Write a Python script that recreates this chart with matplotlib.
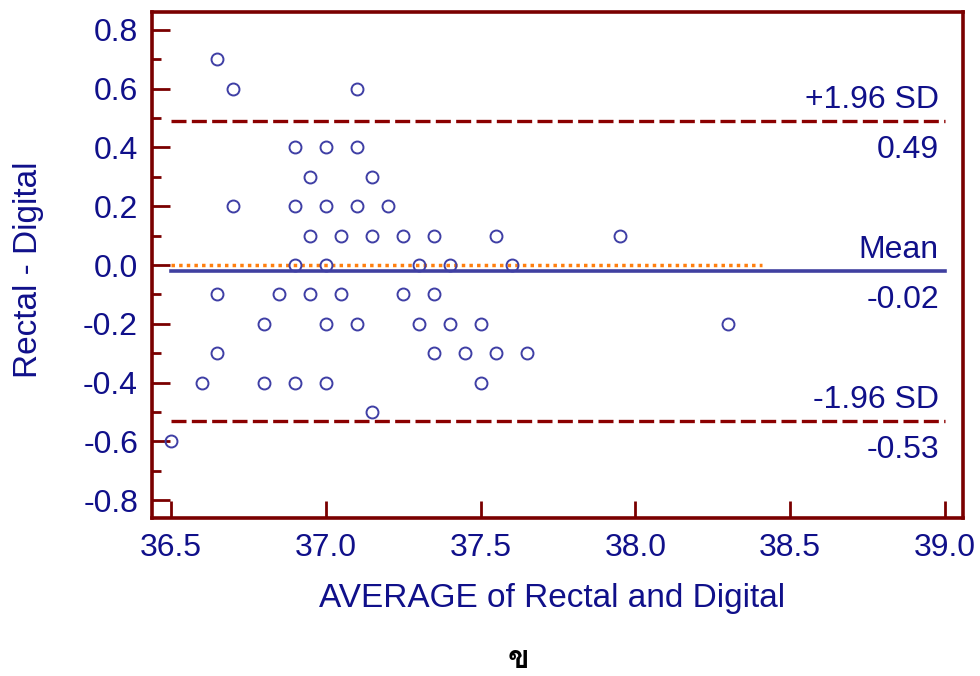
import numpy as np
import matplotlib
matplotlib.use("Agg")
import matplotlib.pyplot as plt
from matplotlib import font_manager, ft2font
from matplotlib.ticker import MultipleLocator

# Bland-Altman data: average of the two methods vs. difference
avg = [36.65, 36.70, 37.10,
       36.90, 37.00, 37.10,
       36.95, 37.15,
       36.70, 36.90, 37.00, 37.10, 37.20,
       36.95, 37.05, 37.15, 37.25, 37.35, 37.55, 37.95,
       36.90, 37.00, 37.30, 37.40, 37.60,
       36.65, 36.85, 36.95, 37.05, 37.25, 37.35,
       36.80, 37.00, 37.10, 37.30, 37.40, 37.50, 38.30,
       36.65, 37.35, 37.45, 37.55, 37.65,
       36.60, 36.80, 36.90, 37.00, 37.50,
       37.15,
       36.50]
diff = [0.7, 0.6, 0.6,
        0.4, 0.4, 0.4,
        0.3, 0.3,
        0.2, 0.2, 0.2, 0.2, 0.2,
        0.1, 0.1, 0.1, 0.1, 0.1, 0.1, 0.1,
        0.0, 0.0, 0.0, 0.0, 0.0,
        -0.1, -0.1, -0.1, -0.1, -0.1, -0.1,
        -0.2, -0.2, -0.2, -0.2, -0.2, -0.2, -0.2,
        -0.3, -0.3, -0.3, -0.3, -0.3,
        -0.4, -0.4, -0.4, -0.4, -0.4,
        -0.5,
        -0.6]

mean_diff = -0.02
upper_loa = 0.49
lower_loa = -0.53
line_x = [36.5, 39.0]
zero_x = [36.5, 38.41]

navy = "#10108a"
maroon = "#7a0000"


# find something that can draw the Thai letter
def thai_font():
    for f in font_manager.fontManager.ttflist:
        try:
            if 0x0E02 in ft2font.FT2Font(f.fname).get_charmap():
                return f.name
        except Exception:
            pass
    return "DejaVu Sans"


plt.rcParams['font.family'] = ['Liberation Sans', 'DejaVu Sans']

fig = plt.figure(figsize=(9.8, 6.76), dpi=100)
ax = fig.add_axes([0.1551, 0.2337, 0.8276, 0.7485])

ax.plot(zero_x, [0, 0], color="#ff7f0e", lw=2.5, ls=(0, (1, 1.2)), zorder=1)
ax.plot(line_x, [mean_diff, mean_diff], color="#4040a0", lw=2.6, zorder=2)
for v in (upper_loa, lower_loa):
    ax.plot(line_x, [v, v], color="#8b0000", lw=2.4, ls=(0, (4.5, 1.6)), zorder=2)

ax.plot(avg, diff, 'o', ms=8.6, mfc='none', mec="#3f3fa5", mew=1.4, zorder=3)

# labels next to the lines
fs = 23
def label(y, top, bottom):
    ax.annotate(top, (38.98, y), xytext=(0, 15), textcoords='offset points',
                ha='right', va='center', fontsize=fs, color=navy)
    ax.annotate(bottom, (38.98, y), xytext=(0, -21), textcoords='offset points',
                ha='right', va='center', fontsize=fs, color=navy)

label(upper_loa, "+1.96 SD", f"{upper_loa:.2f}")
label(mean_diff, "Mean", f"{mean_diff:.2f}")
label(lower_loa, "-1.96 SD", f"{lower_loa:.2f}")

ax.set_xlim(36.4386, 39.058)
ax.set_ylim(-0.861, 0.861)
ax.xaxis.set_major_locator(MultipleLocator(0.5))
ax.yaxis.set_major_locator(MultipleLocator(0.2))
ax.yaxis.set_minor_locator(MultipleLocator(0.1))
ax.xaxis.set_major_formatter(matplotlib.ticker.FormatStrFormatter('%.1f'))
ax.yaxis.set_major_formatter(matplotlib.ticker.FormatStrFormatter('%.1f'))

ax.tick_params(axis='both', which='both', direction='in', color=maroon,
               labelcolor=navy, labelsize=fs, width=2)
ax.tick_params(axis='y', which='major', length=13, pad=10)
ax.tick_params(axis='y', which='minor', length=6.5)
ax.tick_params(axis='x', which='major', length=12.5, pad=11)

for s in ax.spines.values():
    s.set_color(maroon)
    s.set_linewidth(2.6)

ax.set_xlabel("AVERAGE of Rectal and Digital", fontsize=24, color=navy)
ax.set_ylabel("Rectal - Digital", fontsize=24, color=navy)
ax.xaxis.set_label_coords(0.493, -0.128)
ax.yaxis.set_label_coords(-0.133, 0.49)

fig.text(518 / 980, 1 - 660 / 676, "ข", fontsize=23, fontweight='bold',
         ha='center', va='center', color='black',
         family=[thai_font(), 'DejaVu Sans'])

fig.savefig("out.png", dpi=100)
